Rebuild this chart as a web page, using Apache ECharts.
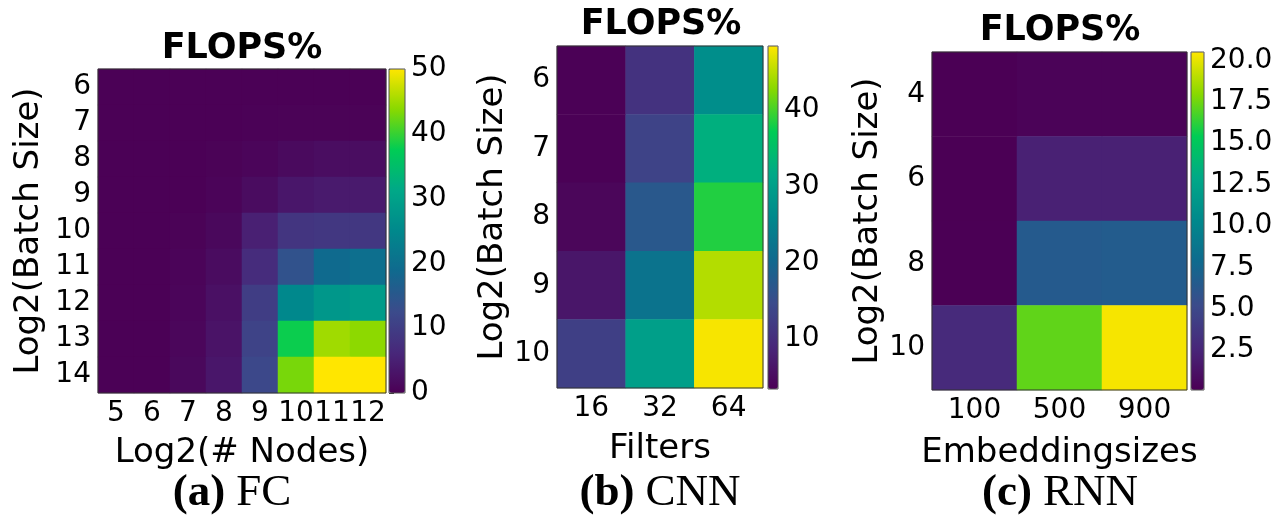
<!DOCTYPE html>
<html>
<head>
<meta charset="utf-8">
<script src="https://cdn.jsdelivr.net/npm/echarts@6/dist/echarts.min.js"></script>
<style>
  html, body { margin: 0; padding: 0; background: #fff; }
  #chart { width: 1283px; height: 515px; }
</style>
</head>
<body>
<div id="chart"></div>
<script>
// (a) FC: rows = log2(batch size), cols = log2(# nodes)
const fcNodes = ['5', '6', '7', '8', '9', '10', '11', '12']
const fcBatch = ['6', '7', '8', '9', '10', '11', '12', '13', '14']
const fcFlops = [
  [0.1, 0.1, 0.1, 0.1, 0.1, 0.2, 0.2, 0.2],
  [0.1, 0.1, 0.1, 0.1, 0.3, 0.4, 0.4, 0.4],
  [0.1, 0.1, 0.1, 0.4, 0.8, 1.5, 2, 2],
  [0.1, 0.1, 0.2, 0.6, 1.8, 3.5, 4, 4],
  [0.1, 0.1, 0.4, 1.2, 5, 8.5, 9, 9],
  [0.1, 0.1, 0.6, 1.8, 7, 14, 19, 20],
  [0.1, 0.2, 0.8, 2.5, 10, 25, 28, 29],
  [0.1, 0.2, 1, 3, 11, 38, 45, 44],
  [0.1, 0.2, 1.2, 3.5, 12, 43, 50, 50]
]
const fcTicks = [0, 10, 20, 30, 40, 50]

// (b) CNN: rows = log2(batch size), cols = filters
const cnnFilters = ['16', '32', '64']
const cnnBatch = ['6', '7', '8', '9', '10']
const cnnFlops = [
  [3.5, 10.6, 27],
  [3.6, 13.3, 32.6],
  [4.2, 17, 38.5],
  [6.5, 22, 44.8],
  [12.8, 30, 48]
]
const cnnTicks = [10, 20, 30, 40]

// (c) RNN: rows = log2(batch size), cols = embedding sizes
const rnnEmb = ['100', '500', '900']
const rnnBatch = ['4', '6', '8', '10']
const rnnFlops = [
  [0.1, 0.3, 0.3],
  [0.1, 2.2, 2.2],
  [0.1, 6.5, 6.6],
  [2.8, 17.2, 20.3]
]
const rnnTicks = [2.5, 5, 7.5, 10, 12.5, 15, 17.5, 20]

const viridis = ['#4b0055', '#48287a', '#3b4b8b', '#10698e', '#00888c', '#00a888', '#00cc55', '#88d800', '#ffe600']

const FONT = 'DejaVu Sans'
const TICK = 28
const NAME = 34

function cells(matrix) {
  const out = []
  matrix.forEach((row, y) => row.forEach((v, x) => out.push([x, y, v])))
  return out
}

const panels = [
  { x: fcNodes, y: fcBatch, data: fcFlops, xName: 'Log2(# Nodes)', min: 0, max: 50, ticks: fcTicks, dec: 0,
    grid: { left: 98, top: 69, width: 288, height: 324 }, bar: { left: 389, top: 69, width: 16, height: 324 },
    yGap: 52, xGap: 43 },
  { x: cnnFilters, y: cnnBatch, data: cnnFlops, xName: 'Filters', min: 3.4, max: 48.4, ticks: cnnTicks, dec: 0,
    grid: { left: 557, top: 46, width: 206, height: 342 }, bar: { left: 768, top: 46, width: 10, height: 343 },
    yGap: 47, xGap: 44 },
  { x: rnnEmb, y: rnnBatch, data: rnnFlops, xName: 'Embeddingsizes', min: 0.09, max: 20.5, ticks: rnnTicks, dec: 1,
    grid: { left: 932, top: 52, width: 255, height: 338 }, bar: { left: 1191, top: 52, width: 13, height: 338 },
    yGap: 40, xGap: 46 }
]

const grid = [], xAxis = [], yAxis = [], series = [], visualMap = []
panels.forEach((p, i) => {
  grid.push(Object.assign({ show: true, borderColor: '#333', borderWidth: 1, backgroundColor: 'transparent', z: 3 }, p.grid))
  xAxis.push({
    type: 'category', gridIndex: i, data: p.x, position: 'bottom',
    name: p.xName, nameLocation: 'middle', nameGap: p.xGap,
    nameTextStyle: { fontFamily: FONT, fontSize: NAME, color: '#000' },
    axisLine: { show: false },
    axisTick: { alignWithLabel: true, length: 5, lineStyle: { color: '#333' } },
    axisLabel: { fontFamily: FONT, fontSize: TICK, color: '#000', margin: 7, interval: 0 },
    splitLine: { show: false }
  })
  yAxis.push({
    type: 'category', gridIndex: i, data: p.y, inverse: true,
    name: 'Log2(Batch Size)', nameLocation: 'middle', nameGap: p.yGap, nameRotate: 90,
    nameTextStyle: { fontFamily: FONT, fontSize: NAME, color: '#000' },
    axisLine: { show: false },
    axisTick: { alignWithLabel: true, length: 5, lineStyle: { color: '#333' } },
    axisLabel: { fontFamily: FONT, fontSize: TICK, color: '#000', margin: 7, interval: 0 },
    splitLine: { show: false }
  })
  series.push({
    type: 'heatmap', xAxisIndex: i, yAxisIndex: i, data: cells(p.data),
    emphasis: { disabled: true }, progressive: 0
  })
  visualMap.push({
    type: 'continuous', seriesIndex: i, min: p.min, max: p.max, calculable: false,
    orient: 'vertical', left: p.bar.left, top: p.bar.top, padding: 0,
    itemWidth: p.bar.width, itemHeight: p.bar.height, text: null, hoverLink: false,
    inRange: { color: viridis }
  })
})

// colorbar outline + tick labels
panels.forEach((p, i) => {
  const gi = panels.length + i
  grid.push(Object.assign({ show: true, borderColor: '#555', borderWidth: 1, backgroundColor: 'transparent', z: 5 }, p.bar))
  xAxis.push({ type: 'value', gridIndex: gi, show: false, min: 0, max: 1 })
  yAxis.push({
    type: 'value', gridIndex: gi, position: 'right', min: p.min, max: p.max,
    axisLine: { show: false },
    splitLine: { show: false },
    axisTick: { show: true, length: 5, lineStyle: { color: '#333' }, customValues: p.ticks },
    axisLabel: {
      fontFamily: FONT, fontSize: TICK, color: '#000', margin: 6,
      customValues: p.ticks, formatter: v => Number(v).toFixed(p.dec)
    }
  })
})

const titles = [
  { text: 'FLOPS%', left: 242, top: 31 },
  { text: 'FLOPS%', left: 661, top: 7 },
  { text: 'FLOPS%', left: 1060, top: 13 }
].map(t => ({
  text: t.text, left: t.left, top: t.top, textAlign: 'center', padding: 0,
  textStyle: { fontFamily: FONT, fontSize: 35, fontWeight: 'bold', color: '#000' }
}))

const captions = [['a', 'FC', 232], ['b', 'CNN', 660], ['c', 'RNN', 1060]].map(c => ({
  text: '{b|(' + c[0] + ')}{s| }{r|' + c[1] + '}', left: c[2], top: 471, textAlign: 'center', padding: 0,
  textStyle: {
    fontWeight: 'normal',
    rich: {
      b: { fontFamily: 'Liberation Serif', fontSize: 45, fontWeight: 'bold', color: '#000' },
      s: { fontFamily: 'Liberation Serif', fontSize: 45, width: 11 },
      r: { fontFamily: 'Liberation Serif', fontSize: 45, fontWeight: 'normal', color: '#000' }
    }
  }
}))

const chart = echarts.init(document.getElementById('chart'))
chart.setOption({
  animation: false,
  backgroundColor: '#fff',
  title: titles.concat(captions),
  grid, xAxis, yAxis, series, visualMap
})
</script>
</body>
</html>
